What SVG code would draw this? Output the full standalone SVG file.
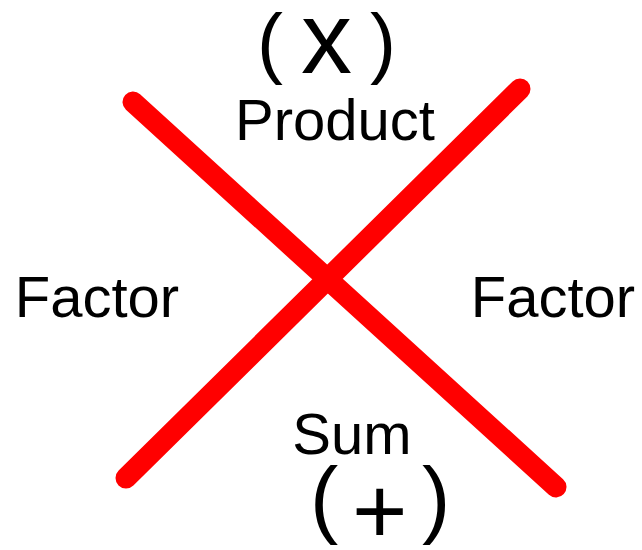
<svg xmlns="http://www.w3.org/2000/svg" width="642" height="550" viewBox="0 0 642 550">
<style>
.lbl{font-family:"Liberation Sans",Arial,sans-serif;font-size:58px;fill:#000}
.hand{font-family:"Liberation Sans",Arial,sans-serif;fill:#000}
.bar{stroke:#ff0000;stroke-width:21;stroke-linecap:round;fill:none}
</style>
<rect width="642" height="550" fill="#fff"/>
<g id="connectors">
<line class="bar" x1="133" y1="102" x2="556" y2="487"/>
<line class="bar" x1="520" y1="89" x2="126" y2="478"/>
</g>
<g id="product">
<text class="hand" font-size="78" y="69"><tspan x="257">(</tspan><tspan x="301" y="73" font-size="102">x</tspan><tspan x="370" y="69">)</tspan></text>
<text class="lbl" x="335" y="140" text-anchor="middle">Product</text>
</g>
<g id="factor-left"><text class="lbl" x="97" y="317" text-anchor="middle">Factor</text></g>
<g id="factor-right"><text class="lbl" x="553" y="317" text-anchor="middle">Factor</text></g>
<g id="sum">
<text class="lbl" x="352" y="454" text-anchor="middle" font-size="57">Sum</text>
<text class="hand" font-size="85" y="527"><tspan x="310">(</tspan><tspan x="352" y="543" font-size="95">+</tspan><tspan x="422" y="527">)</tspan></text>
</g>
</svg>
